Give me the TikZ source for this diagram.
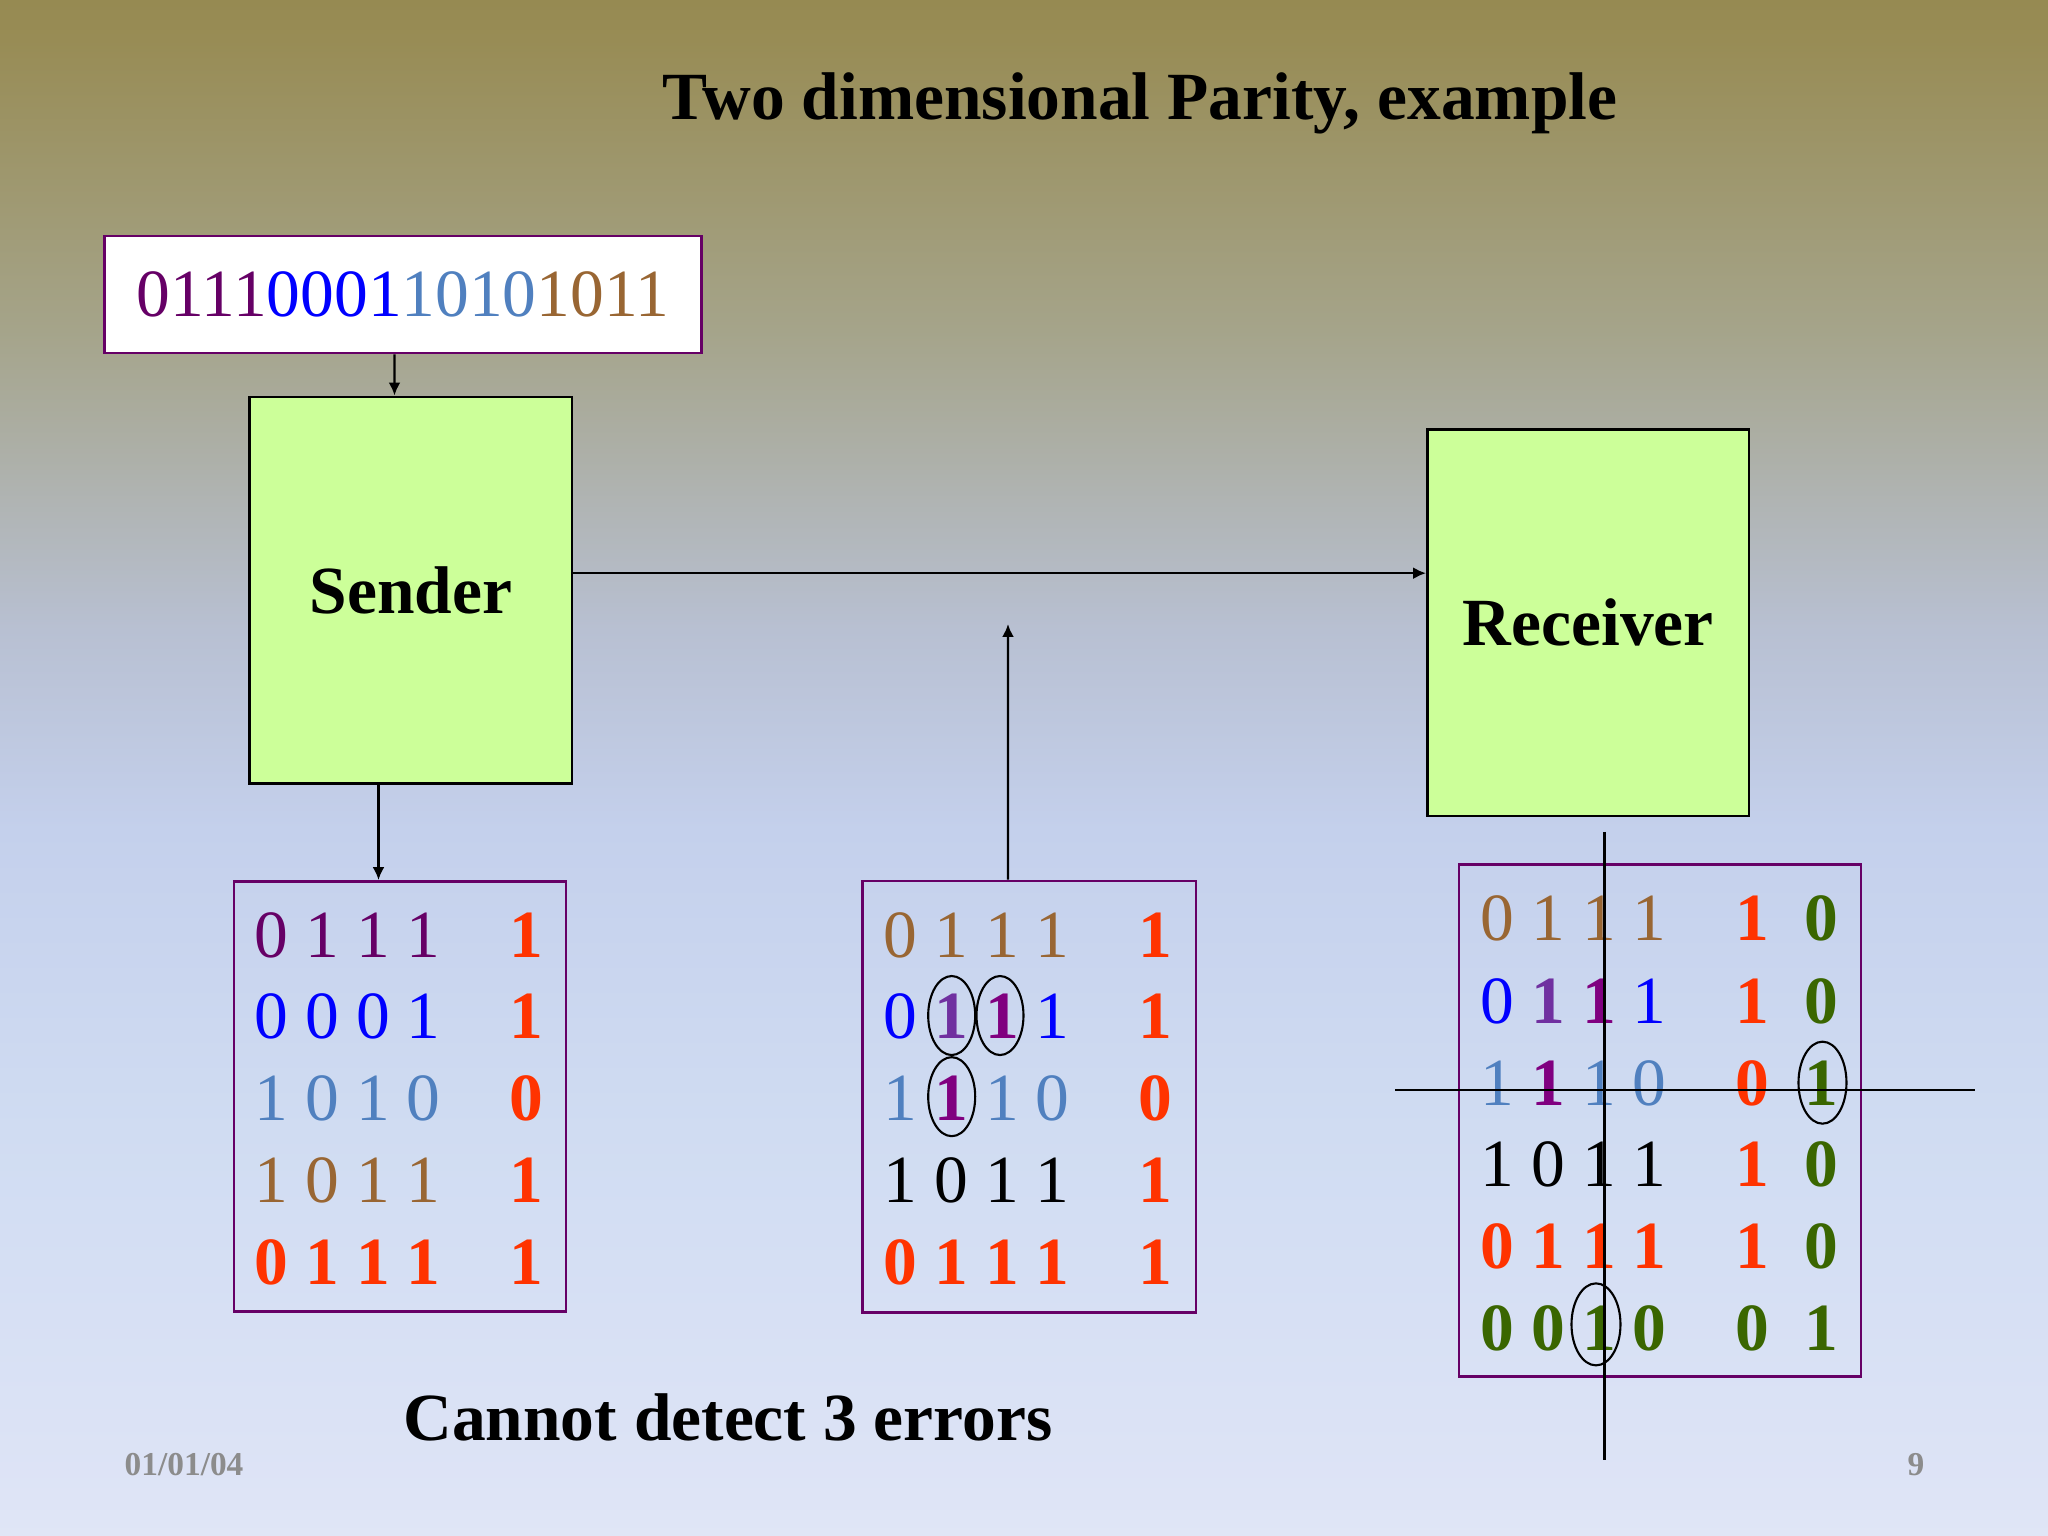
\documentclass[tikz,border=0pt]{standalone}
\usepackage{fontspec}
\setmainfont{Liberation Serif}
\usetikzlibrary{arrows.meta}
\definecolor{pur}{HTML}{660066}
\definecolor{blu}{HTML}{0000FF}
\definecolor{stb}{HTML}{5080BF}
\definecolor{brn}{HTML}{996633}
\definecolor{org}{HTML}{FF3300}
\definecolor{grn}{HTML}{3A6600}
\definecolor{vio}{HTML}{7030A0}
\definecolor{mag}{HTML}{800080}
\definecolor{lime}{HTML}{CCFF99}
\definecolor{foot}{HTML}{8C8C8C}
\definecolor{bgA}{HTML}{E0E6F6}
\definecolor{bgB}{HTML}{DEE4F6}
\definecolor{bgC}{HTML}{D0DCF2}
\definecolor{bgD}{HTML}{C4D0EC}
\definecolor{bgE}{HTML}{B8C0D2}
\definecolor{bgF}{HTML}{A5A48A}
\definecolor{bgG}{HTML}{988C55}
\definecolor{bgH}{HTML}{968A52}
% the path box covers 25bp..75bp of the shading
\pgfdeclareverticalshading{slide}{100bp}{color(0bp)=(bgA); color(25bp)=(bgA);
  color(26.15bp)=(bgB); color(38.2bp)=(bgC); color(48bp)=(bgD); color(54.5bp)=(bgE);
  color(64.25bp)=(bgF); color(73.7bp)=(bgG); color(75bp)=(bgH); color(100bp)=(bgH)}
\begin{document}
\begin{tikzpicture}[
  dig/.style={font=\fontsize{19.2}{23}\selectfont, anchor=base, inner sep=0pt},
  bdig/.style={dig, font=\fontsize{19.2}{23}\selectfont\bfseries, text=org},
  hd/.style={font=\fontsize{19.2}{23}\selectfont\bfseries},
  blk/.style={draw, fill=lime, line width=0.8pt, inner sep=0pt},
  mat/.style={draw=pur, line width=0.8pt, inner sep=0pt},
  ring/.style={line width=0.6pt},
  >={Latex[length=1.3mm,width=1.2mm]}]
  \useasboundingbox (0,0) rectangle (20.48,15.36);
  \shade[shading=slide] (0,0) rectangle (20.48,15.36);
  \node[hd, anchor=base] (title) at (11.40,14.16) {Two dimensional Parity, example};
  % message, sender and receiver
  \node[draw=pur, fill=white, line width=0.8pt, minimum width=5.97cm, minimum height=1.17cm,
    font=\fontsize{19.2}{23}\selectfont] (msg) at (4.03,12.415)
    {\textcolor{pur}{0111}\textcolor{blu}{0001}\textcolor{stb}{1010}\textcolor{brn}{1011}};
  \node[blk, hd, minimum width=3.225cm, minimum height=3.865cm] (snd) at (4.108,9.458) {Sender};
  \node[blk, hd, minimum width=3.215cm, minimum height=3.865cm] (rcv) at (15.8825,9.1325) {Receiver};
  % parity blocks
  \node[mat, minimum width=3.32cm, minimum height=4.30cm] (left) at (4.0,4.395) {};
  \node[mat, minimum width=3.337cm, minimum height=4.313cm] (mid) at (10.292,4.393) {};
  \node[mat, minimum width=4.02cm, minimum height=5.12cm] (right) at (16.6,4.155) {};
  % arrows
  \draw[line width=0.7pt, ->] ([xshift=-0.085cm]msg.south) -- ([xshift=-0.163cm]snd.north);
  \draw[line width=0.7pt, ->] ([xshift=-0.323cm]snd.south) -- ([xshift=-0.215cm]left.north);
  \draw[line width=0.7pt, ->] ([yshift=0.17cm]snd.east) coordinate (s) -- (s -| rcv.west);
  \coordinate (chan) at (10.08,9.12);
  \draw[line width=0.7pt, ->] ([xshift=-0.212cm]mid.north) -- (chan);
  % sent block
  \node[dig, text=pur] (l1) at (3.477,5.787) {0 1 1 1};
  \node[dig, text=blu] (l2) at (3.477,4.970) {0 0 0 1};
  \node[dig, text=stb] (l3) at (3.477,4.153) {1 0 1 0};
  \node[dig, text=brn] (l4) at (3.477,3.333) {1 0 1 1};
  \node[bdig] (l5) at (3.477,2.517) {0 1 1 1};
  \node[bdig] (lp1) at (5.267,5.787) {1};
  \node[bdig] (lp2) at (5.267,4.970) {1};
  \node[bdig] (lp3) at (5.267,4.153) {0};
  \node[bdig] (lp4) at (5.267,3.333) {1};
  \node[bdig] (lp5) at (5.267,2.517) {1};
  % received block
  \node[dig, text=brn] (m1) at (9.767,5.787) {0 1 1 1};
  \node[dig, text=blu] (m2) at (9.767,4.970) {0 \textcolor{vio}{\textbf{1}} \textcolor{mag}{\textbf{1}} 1};
  \node[dig, text=stb] (m3) at (9.767,4.153) {1 \textcolor{mag}{\textbf{1}} 1 0};
  \node[dig] (m4) at (9.767,3.333) {1 0 1 1};
  \node[bdig] (m5) at (9.767,2.517) {0 1 1 1};
  \node[bdig] (mp1) at (11.55,5.787) {1};
  \node[bdig] (mp2) at (11.55,4.970) {1};
  \node[bdig] (mp3) at (11.55,4.153) {0};
  \node[bdig] (mp4) at (11.55,3.333) {1};
  \node[bdig] (mp5) at (11.55,2.517) {1};
  \draw[ring] (9.517,5.2045) ellipse (0.235 and 0.395);
  \draw[ring] (10.0,5.2045) ellipse (0.235 and 0.395);
  \draw[ring] (9.517,4.393) ellipse (0.235 and 0.395);
  % checked block
  \node[dig, text=brn] (r1) at (15.737,5.950) {0 1 1 1};
  \node[dig, text=blu] (r2) at (15.737,5.128) {0 \textcolor{vio}{\textbf{1}} \textcolor{mag}{\textbf{1}} 1};
  \node[dig, text=stb] (r3) at (15.737,4.308) {1 \textcolor{mag}{\textbf{1}} 1 0};
  \node[dig] (r4) at (15.737,3.490) {1 0 1 1};
  \node[bdig] (r5) at (15.737,2.674) {0 1 1 1};
  \node[bdig, text=grn] (r6) at (15.737,1.853) {0 0 1 0};
  \node[bdig] (rp1) at (17.528,5.950) {1};
  \node[bdig] (rp2) at (17.528,5.128) {1};
  \node[bdig] (rp3) at (17.528,4.308) {0};
  \node[bdig] (rp4) at (17.528,3.490) {1};
  \node[bdig] (rp5) at (17.528,2.674) {1};
  \node[bdig, text=grn] (rp6) at (17.528,1.853) {0};
  \node[bdig, text=grn] (rq1) at (18.217,5.950) {0};
  \node[bdig, text=grn] (rq2) at (18.217,5.128) {0};
  \node[bdig, text=grn] (rq3) at (18.217,4.308) {1};
  \node[bdig, text=grn] (rq4) at (18.217,3.490) {0};
  \node[bdig, text=grn] (rq5) at (18.217,2.674) {0};
  \node[bdig, text=grn] (rq6) at (18.217,1.853) {1};
  \draw[ring] (18.225,4.533) ellipse (0.24 and 0.41);
  \draw[ring] (15.96,2.116) ellipse (0.245 and 0.41);
  \draw[line width=0.7pt] (13.95,4.46) -- (19.75,4.46);
  \draw[line width=0.7pt] (16.043,7.04) -- (16.043,0.76);
  % footer
  \node[hd, anchor=base] (note) at (7.28,0.95) {Cannot detect 3 errors};
  \node[font=\fontsize{9.5}{11}\selectfont\bfseries, text=foot, anchor=base west, inner sep=0pt] (date) at (1.24,0.60) {01/01/04};
  \node[font=\fontsize{9.5}{11}\selectfont\bfseries, text=foot, anchor=base, inner sep=0pt] (page) at (19.16,0.60) {9};
\end{tikzpicture}
\end{document}
